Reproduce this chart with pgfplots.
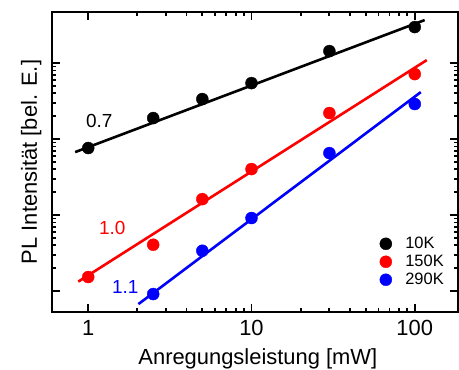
\documentclass[border=0pt]{standalone}
\usepackage{fontspec}
\setmainfont{Liberation Sans}
\usepackage{pgfplots}
\pgfplotsset{compat=1.18}
\begin{document}
\begin{tikzpicture}
\begin{axis}[
 name=ax,
 scale only axis, width=406bp, height=300bp,
 xmode=log, ymode=log,
 xmin=0.6, xmax=184, ymin=0.53, ymax=4700,
 xtick={1,10,100}, xticklabels={1,10,100},
 ytick={1,10,100,1000}, yticklabels={},
 axis line style={line width=2.5bp},
 every tick/.style={black, line width=1.8bp},
 major tick length=8bp, minor tick length=4.5bp,
 tick align=inside,
 ticklabel style={font=\fontsize{22}{24}\selectfont},
 xticklabel style={yshift=-5bp},
 /pgf/number format/assume math mode=true,
 xlabel={Anregungsleistung [mW]}, ylabel={PL Intensität [bel. E.]},
 label style={font=\fontsize{22}{24}\selectfont},
 xlabel style={at={(rel axis cs:0.507,-0.174)}, anchor=base},
 ylabel style={at={(rel axis cs:-0.037,0.5)}, anchor=base},
 legend style={draw=none, fill=none, inner sep=0pt, at={(rel axis cs:0.807,0.258)}, anchor=north west,
   font=\fontsize{16.5}{18}\selectfont, nodes={inner sep=2.5bp},
   /tikz/every odd column/.append style={column sep=11bp}},
 legend cell align=left,
]
\addplot[only marks, mark=*, mark size=6bp, black] coordinates {(1,76.2) (2.5,189) (5,336) (10,545) (30,1438) (100,2977)};
\addlegendentry{10K}
\addplot[only marks, mark=*, mark size=6bp, red] coordinates {(1,1.53) (2.5,4.07) (5,16.2) (10,40.3) (30,220) (100,716)};
\addlegendentry{150K}
\addplot[only marks, mark=*, mark size=6bp, blue] coordinates {(2.5,0.913) (5,3.39) (10,9.14) (30,65.4) (100,289)};
\addlegendentry{290K}
\addplot[forget plot, black, line width=2.6bp] coordinates {(0.832,67.4) (115,3680)};
\addplot[forget plot, red, line width=2.6bp] coordinates {(0.869,1.33) (118.5,1095)};
\addplot[forget plot, blue, line width=2.6bp] coordinates {(2.03,0.674) (108.9,415)};
\node[font=\fontsize{19}{22}\selectfont, black] at (axis cs:1.168,172.6) {0.7};
\node[font=\fontsize{19}{22}\selectfont, red] at (axis cs:1.404,6.75) {1.0};
\node[font=\fontsize{19}{22}\selectfont, blue] at (axis cs:1.687,1.13) {1.1};
\end{axis}
\pgfresetboundingbox
\path ([shift={(-52bp,-57bp)}]ax.south west) rectangle ([shift={(1bp,12bp)}]ax.north east);
\end{tikzpicture}
\end{document}
